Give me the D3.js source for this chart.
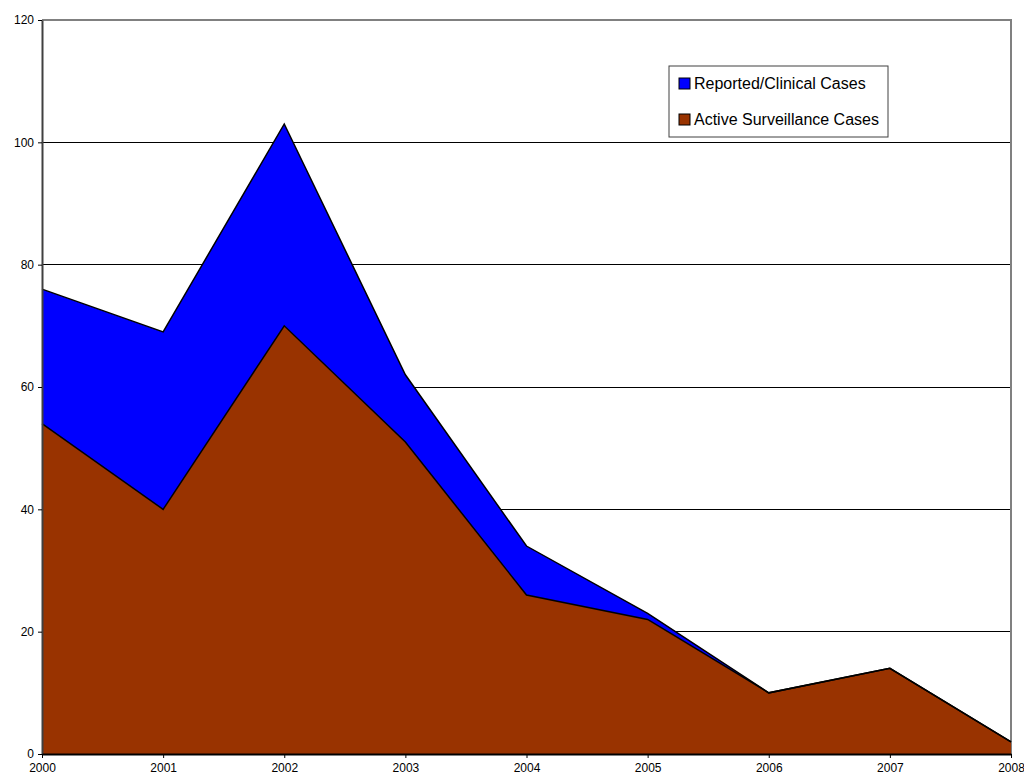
<!DOCTYPE html>
<html><head><meta charset="utf-8">
<script src="https://cdn.jsdelivr.net/npm/d3@7"></script>
<style>body{margin:0;background:#fff}svg{display:block}</style>
</head><body>
<svg width="1024" height="778"></svg>
<script>
const years = [2000, 2001, 2002, 2003, 2004, 2005, 2006, 2007, 2008];
const activeCases = [54, 40, 70, 51, 26, 22, 10, 14, 2];
const reportedCases = [22, 29, 33, 11, 8, 1, 0, 0, 0];
const yTicks = [0, 20, 40, 60, 80, 100, 120];
const seriesNames = ["Active Surveillance Cases", "Reported/Clinical Cases"];
const seriesColors = ["#993300", "#0000FF"];

const svg = d3.select("svg");
const L = 42, R = 1011, T = 20, B = 754;
const x = d3.scaleLinear().domain([2000, 2008]).range([L, R]);
const y = d3.scaleLinear().domain([0, 120]).range([B, T]);
const font = "Arial, 'Liberation Sans', sans-serif";

const rows = years.map((yr, i) => ({year: yr, active: activeCases[i], reported: reportedCases[i]}));
const stack = d3.stack().keys(["active", "reported"])(rows);

// gridlines
svg.append("g").selectAll("line").data(yTicks.filter(t => t > 0 && t < 120)).join("line")
  .attr("x1", L).attr("x2", R).attr("y1", d => y(d)).attr("y2", d => y(d))
  .attr("stroke", "#000").attr("stroke-width", 1).attr("shape-rendering", "crispEdges");
// plot border top/right (gray)
svg.append("path").attr("d", `M${L},${y(120)}H${R}V${B}`)
  .attr("fill", "none").attr("stroke", "#808080").attr("stroke-width", 2);

const area = d3.area().x(d => x(d.data.year)).y0(d => y(d[0])).y1(d => y(d[1]));
const line = d3.line().x(d => x(d.data.year)).y(d => y(d[1]));
svg.append("g").selectAll("path").data(stack).join("path")
  .attr("d", area).attr("fill", (d, i) => seriesColors[i]);
svg.append("g").selectAll("path").data(stack).join("path")
  .attr("d", line).attr("fill", "none").attr("stroke", "#000").attr("stroke-width", 1.5);

// axes
const yAxis = d3.axisLeft(y).tickValues(yTicks).tickSize(4).tickSizeOuter(0);
const gy = svg.append("g").attr("transform", `translate(${L},0)`).call(yAxis);
gy.select(".domain").attr("stroke", "#404040").attr("stroke-width", 2);
gy.selectAll(".tick line").attr("stroke", "#000");
gy.selectAll("text").attr("font-family", font).attr("font-size", 12).attr("fill", "#000").attr("x", -8);

const xAxis = d3.axisBottom(x).tickValues(years).tickFormat(d3.format("d")).tickSize(4).tickSizeOuter(0);
const gx = svg.append("g").attr("transform", `translate(0,${B})`).call(xAxis);
gx.select(".domain").attr("stroke", "#000").attr("stroke-width", 2);
gx.selectAll(".tick line").attr("stroke", "#000");
gx.selectAll("text").attr("font-family", font).attr("font-size", 12).attr("fill", "#000").attr("y", 9);

// legend
const lg = svg.append("g").attr("transform", "translate(669,66)");
lg.append("rect").attr("x", 0).attr("y", 0).attr("width", 219).attr("height", 71)
  .attr("fill", "#fff").attr("stroke", "#404040").attr("stroke-width", 1);
const legendOrder = [1, 0];
legendOrder.forEach((si, k) => {
  const yy = 18 + k * 36;
  lg.append("rect").attr("x", 10).attr("y", yy - 6).attr("width", 11).attr("height", 11)
    .attr("fill", seriesColors[si]).attr("stroke", "#000").attr("stroke-width", 1);
  lg.append("text").attr("x", 25).attr("y", yy + 5).text(seriesNames[si])
    .attr("font-family", font).attr("font-size", 16).attr("fill", "#000");
});
</script>
</body></html>
